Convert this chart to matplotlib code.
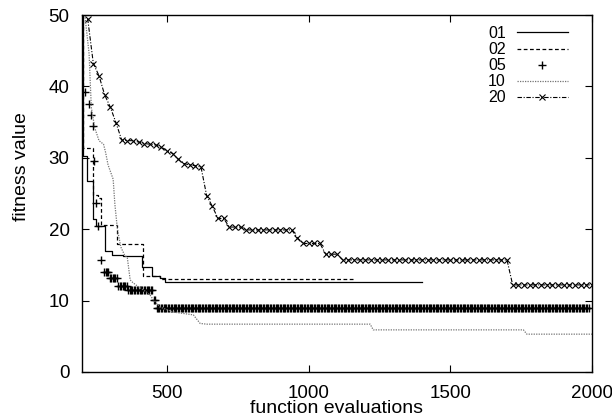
import matplotlib
matplotlib.use("Agg")
import matplotlib.pyplot as plt
import numpy as np

plt.rcParams['font.family'] = ['Liberation Sans', 'DejaVu Sans']

# ---- data ----
# 01 : step curve (solid)
x01 = [200, 203, 219, 238, 249, 281, 305, 346, 410, 446, 475, 493, 1400]
y01 = [50, 30.2, 26.7, 21.4, 20.4, 16.9, 16.4, 16.2, 14.7, 13.4, 13.1, 12.6, 12.6]

# 02 : step curve (dashed)
x02 = [200, 205, 240, 258, 268, 322, 416, 475, 1165]
y02 = [50, 31.4, 24.8, 24.3, 20.6, 17.9, 13.4, 13.0, 13.0]

# 05 : '+' markers only
x05_head = [212, 223, 233, 239, 242, 251, 258, 268]
y05_head = [39.2, 37.5, 36.0, 34.5, 29.6, 23.7, 20.4, 15.7]
x05_tail_start = 278
x05_tail_step = 5
y05_levels = [14.0, 13.1, 12.0, 11.5, 10.1, 9.0]
y05_counts = [4, 6, 7, 18, 2, 306]

# 10 : dotted gray
x10 = [210, 225, 229, 233, 245, 260, 276, 283, 292, 310, 316, 325, 337, 350, 360,
       370, 380, 390, 420, 440, 450, 475, 522, 593, 617, 640, 1217, 1228, 1758,
       1770, 2000]
y10 = [50, 44.6, 40.7, 37.0, 34.2, 32.4, 31.9, 30.8, 29.0, 27.0, 23.5, 20.0, 17.5,
       16.4, 16.0, 12.9, 12.5, 12.2, 11.4, 10.8, 10.2, 9.1, 8.4, 8.0, 6.8, 6.7,
       6.7, 5.9, 5.9, 5.3, 5.3]

# 20 : dash-dot with 'x' markers, one sample every 20 evaluations
x20_start, x20_step = 220, 20
y20 = ([49.5, 43.2, 41.5, 38.8, 37.1, 34.9, 32.5, 32.4, 32.4, 32.2,
        32.0, 31.9, 31.8, 31.5, 31.0, 30.6, 29.8, 29.2, 29.0, 28.9,
        28.7, 24.7, 23.2, 21.5, 21.5, 20.3, 20.3, 20.3, 19.9, 19.9,
        19.9, 19.9, 19.9, 19.9, 19.9, 19.9, 19.9, 18.8, 18.0, 18.0,
        18.0, 18.0, 16.5, 16.5, 16.5]
       + [15.7] * 30 + [12.2] * 15)

labels = ["01", "02", "05", "10", "20"]
xticks = [500, 1000, 1500, 2000]
yticks = [0, 10, 20, 30, 40, 50]

# ---- build arrays ----
y05_tail = np.repeat(y05_levels, y05_counts)
x05_tail = x05_tail_start + x05_tail_step * np.arange(len(y05_tail))
x05 = np.concatenate([x05_head, x05_tail])
y05 = np.concatenate([y05_head, y05_tail])
x20 = x20_start + x20_step * np.arange(len(y20))

fig = plt.figure(figsize=(6.12, 4.18), dpi=100)
ax = fig.add_axes([82/612, 1 - 372/418, 510/612, 357/418])

ax.plot(x01, y01, drawstyle='steps-post', color='black', lw=0.9, label=labels[0])
ax.plot(x02, y02, drawstyle='steps-post', color='black', lw=0.9,
        linestyle=(0, (3, 2)), label=labels[1])
ax.plot(x05, y05, linestyle='none', marker='+', color='black', ms=5.5, mew=1.0,
        label=labels[2], clip_on=True)
ax.plot(x10, y10, color='0.45', lw=0.9, linestyle=(0, (1, 1)), label=labels[3])
ax.plot(x20, y20, color='black', lw=0.8, linestyle=(0, (4, 1.5, 1, 1.5)),
        marker='x', ms=5, mew=0.8, label=labels[4])

ax.set_xlim(200, 2000)
ax.set_ylim(0, 50)
ax.set_xticks(xticks)
ax.set_yticks(yticks)
ax.tick_params(direction='in', top=True, right=True, length=5, width=0.8,
               labelsize=13.5, pad=9)
for s in ax.spines.values():
    s.set_linewidth(1.0)

ax.set_xlabel("function evaluations", fontsize=14, labelpad=-1)
fig.text(21/612, 1 - 167/418, "fitness value", rotation=90, ha='center',
         va='center', fontsize=14)

leg = ax.legend(loc='upper right', bbox_to_anchor=((568-82)/510, (372-26)/357),
                frameon=False, markerfirst=False, fontsize=11.5,
                handlelength=3.2, handletextpad=0.7, labelspacing=0.07,
                borderpad=0, borderaxespad=0, numpoints=1)

fig.savefig("out.png", dpi=100)
